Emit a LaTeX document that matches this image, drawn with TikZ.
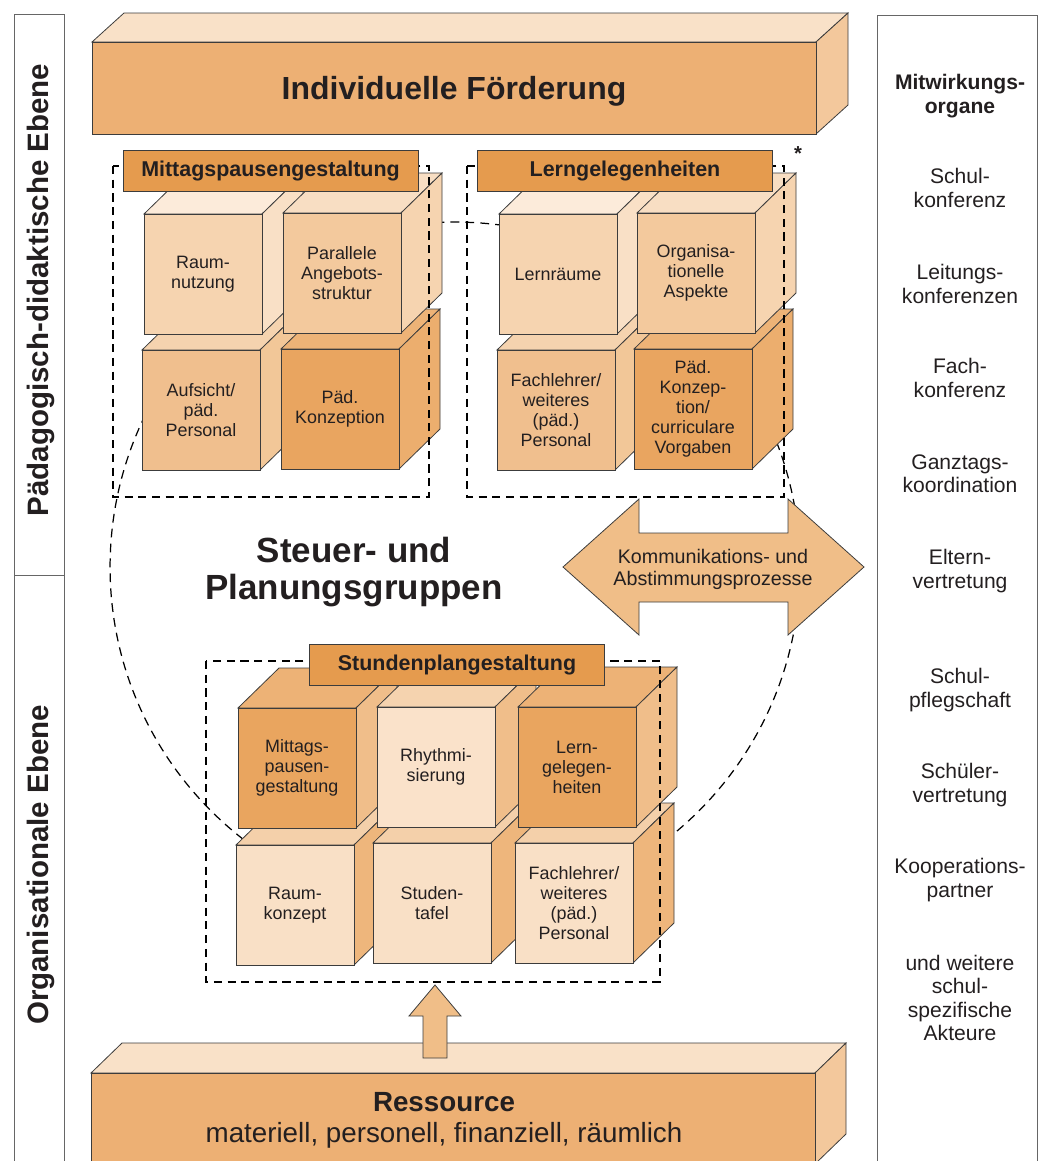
\documentclass[tikz,border=0pt]{standalone}
\usepackage{fontspec}
\setmainfont{Liberation Sans}

\definecolor{schrift}{HTML}{231F20}
\definecolor{linie}{HTML}{3C3C3C}
\definecolor{balkenfront}{HTML}{EDB074}
\definecolor{balkenoben}{HTML}{F9E1C8}
\definecolor{balkenseite}{HTML}{F3C89C}
\definecolor{titelfarbe}{HTML}{E59B4E}
\definecolor{pfeilfarbe}{HTML}{F0BE88}
% Wuerfelfarben: front / oben / seite
\definecolor{Afront}{HTML}{F6D4B0}\definecolor{Atop}{HTML}{FCEBDA}\definecolor{Aside}{HTML}{F9E0C6}
\definecolor{Bfront}{HTML}{F3C99D}\definecolor{Btop}{HTML}{F8DEC3}\definecolor{Bside}{HTML}{F6D4B0}
\definecolor{Cfront}{HTML}{F0BF8E}\definecolor{Ctop}{HTML}{F5D3AF}\definecolor{Cside}{HTML}{F2C798}
\definecolor{Dfront}{HTML}{E9A560}\definecolor{Dtop}{HTML}{EDB377}\definecolor{Dside}{HTML}{ECAE6E}
\definecolor{Efront}{HTML}{E9A55F}\definecolor{Etop}{HTML}{EDB276}\definecolor{Eside}{HTML}{F0BE8A}
\definecolor{Ffront}{HTML}{FAE2CA}\definecolor{Ftop}{HTML}{F5D3AF}\definecolor{Fside}{HTML}{F0BE8A}
\definecolor{Gfront}{HTML}{F9E0C6}\definecolor{Gtop}{HTML}{F4D0AA}\definecolor{Gside}{HTML}{EEB67C}

% Wuerfel: Name, x, y (Ecke oben links der Front), Farbsatz, Text
\newcommand{\wuerfel}[5]{%
  \filldraw[kante, fill=#4top] (#2,#3) -- ++(41,-40) -- ++(118,0) -- ++(-41,40) -- cycle;
  \filldraw[kante, fill=#4side] (#2+118,#3) -- ++(41,-40) -- ++(0,120) -- ++(-41,40) -- cycle;
  \filldraw[kante, fill=#4front] (#2,#3) rectangle ++(118,120);
  \node[wtext] (#1) at (#2+59,#3+60) {#5};
}

\begin{document}
\begin{tikzpicture}[x=0.02cm, y=-0.02cm,
    kante/.style={draw=linie, line width=0.45pt},
    wtext/.style={font=\fontsize{10.2}{11.4}\selectfont, text=schrift, align=center, inner sep=0pt},
    titelbox/.style={draw=linie, line width=0.45pt, fill=titelfarbe, minimum width=5.9cm, minimum height=0.82cm, inner sep=0pt, text=schrift, font=\bfseries\fontsize{12.2}{14}\selectfont},
    rahmen/.style={black, line width=0.75pt, dash pattern=on 4.6pt off 3.2pt},
    kreis/.style={black, line width=0.7pt, dash pattern=on 5pt off 3.5pt},
    seite/.style={draw=gray!80!black, line width=0.55pt},
    ebene/.style={font=\bfseries\fontsize{16.8}{18}\selectfont, text=schrift, inner sep=0pt},
    organ/.style={font=\fontsize{12}{13.3}\selectfont, text=schrift, align=center, inner sep=0pt}]
  \useasboundingbox (0,0) rectangle (1039,1161);
  \clip (0,0) rectangle (1039,1161);

  % Seitenleisten
  \draw[seite] (14,14) rectangle (64,1175);
  \draw[seite] (14,575) -- (64,575);
  \draw[seite] (877,15) rectangle (1037,1175);
  \node[ebene, rotate=90] (paedagogisch) at (41,290) {Pädagogisch-didaktische Ebene};
  \node[ebene, rotate=90] (organisational) at (41,865) {Organisationale Ebene};

  % Mitwirkungsorgane
  \node[organ, font=\bfseries\fontsize{12}{13.3}\selectfont] (mitwirkung) at (960,96) {Mitwirkungs-\\organe};
  \node[organ] (schulkonferenz) at (960,188) {Schul-\\konferenz};
  \node[organ] (leitung) at (960,284) {Leitungs-\\konferenzen};
  \node[organ] (fachkonferenz) at (960,378) {Fach-\\konferenz};
  \node[organ] (ganztag) at (960,474) {Ganztags-\\koordination};
  \node[organ] (eltern) at (960,571) {Eltern-\\vertretung};
  \node[organ] (pflegschaft) at (960,690) {Schul-\\pflegschaft};
  \node[organ] (schueler) at (960,785) {Schüler-\\vertretung};
  \node[organ] (kooperation) at (960,880) {Kooperations-\\partner};
  \node[organ] (weitere) at (960,998) {und weitere\\schul-\\spezifische\\Akteure};

  % Balken oben
  \filldraw[kante, fill=balkenoben] (92,42) -- ++(32,-29) -- ++(724,0) -- ++(-32,29) -- cycle;
  \filldraw[kante, fill=balkenseite] (816,42) -- ++(32,-29) -- ++(0,92) -- ++(-32,29) -- cycle;
  \filldraw[kante, fill=balkenfront] (92,42) rectangle (816,134);
  \node[font=\bfseries\fontsize{18.2}{20}\selectfont, text=schrift] (foerderung) at (454,91) {Individuelle Förderung};

  % Kreis der Steuer- und Planungsgruppen
  \draw[kreis] (455,567) circle [radius=6.9cm];
  \node[font=\bfseries\fontsize{19.9}{21.6}\selectfont, text=schrift, align=center] (steuergruppen) at (354,572) {Steuer- und\\Planungsgruppen};

  % Doppelpfeil
  \filldraw[kante, fill=pfeilfarbe] (563,567) -- (639,499) -- (639,533) -- (788,533) -- (788,499) -- (864,567)
    -- (788,635) -- (788,602) -- (639,602) -- (639,635) -- cycle;
  \node[font=\fontsize{11.2}{12.5}\selectfont, text=schrift, align=center] (kommunikation) at (713,569) {Kommunikations- und\\Abstimmungsprozesse};

  % Gruppe Mittagspausengestaltung
  \wuerfel{aufsicht}{142}{350}{C}{Aufsicht/\\päd.\\Personal}
  \wuerfel{konzeption}{281}{349}{D}{Päd.\\Konzeption}
  \wuerfel{raumnutzung}{144}{214}{A}{Raum-\\nutzung}
  \wuerfel{parallele}{283}{213}{B}{Parallele\\Angebots-\\struktur}
  \draw[rahmen] (113,166) rectangle (429,497);
  \node[titelbox] (mittag) at (270.5,170.5) {Mittagspausengestaltung};

  % Gruppe Lerngelegenheiten
  \wuerfel{fachlehrer}{497}{350}{C}{Fachlehrer/\\weiteres\\(päd.)\\Personal}
  \wuerfel{vorgaben}{634}{349}{D}{Päd.\\Konzep-\\tion/\\curriculare\\Vorgaben}
  \wuerfel{lernraeume}{499}{214}{A}{Lernräume}
  \wuerfel{aspekte}{637}{213}{B}{Organisa-\\tionelle\\Aspekte}
  \draw[rahmen] (467,166) rectangle (784,497);
  \node[titelbox] (lern) at (625,170.5) {Lerngelegenheiten};
  \node[font=\bfseries\fontsize{11.5}{12}\selectfont, text=schrift, inner sep=0pt] (stern) at (798,154) {*};

  % Gruppe Stundenplangestaltung
  \wuerfel{raumkonzept}{236}{845}{G}{Raum-\\konzept}
  \wuerfel{studentafel}{373}{843}{G}{Studen-\\tafel}
  \wuerfel{personal}{515}{843}{G}{Fachlehrer/\\weiteres\\(päd.)\\Personal}
  \wuerfel{mittagspause}{238}{708}{E}{Mittags-\\pausen-\\gestaltung}
  \wuerfel{rhythmus}{377}{707}{F}{Rhythmi-\\sierung}
  \wuerfel{lernzeit}{518}{707}{E}{Lern-\\gelegen-\\heiten}
  \draw[rahmen] (206,661) rectangle (660,982);
  \node[titelbox] (stunden) at (457,664.5) {Stundenplangestaltung};

  % Balken unten
  \filldraw[kante, fill=balkenoben] (91,1073) -- ++(31,-30) -- ++(724,0) -- ++(-31,30) -- cycle;
  \filldraw[kante, fill=balkenseite] (815,1073) -- ++(31,-30) -- ++(0,91) -- ++(-31,30) -- cycle;
  \filldraw[kante, fill=balkenfront] (91,1073) rectangle (815,1164);
  \node[font=\fontsize{15.8}{17.6}\selectfont, text=schrift, align=center] (ressource) at (444,1120) {\textbf{Ressource}\\materiell, personell, finanziell, räumlich};

  % Pfeil nach oben
  \coordinate (pfeilspitze) at (435,985);
  \filldraw[kante, fill=pfeilfarbe] (pfeilspitze) -- ++(26,31) -- ++(-14,0) -- ++(0,42) -- ++(-24,0) -- ++(0,-42) -- ++(-14,0) -- cycle;
\end{tikzpicture}
\end{document}
